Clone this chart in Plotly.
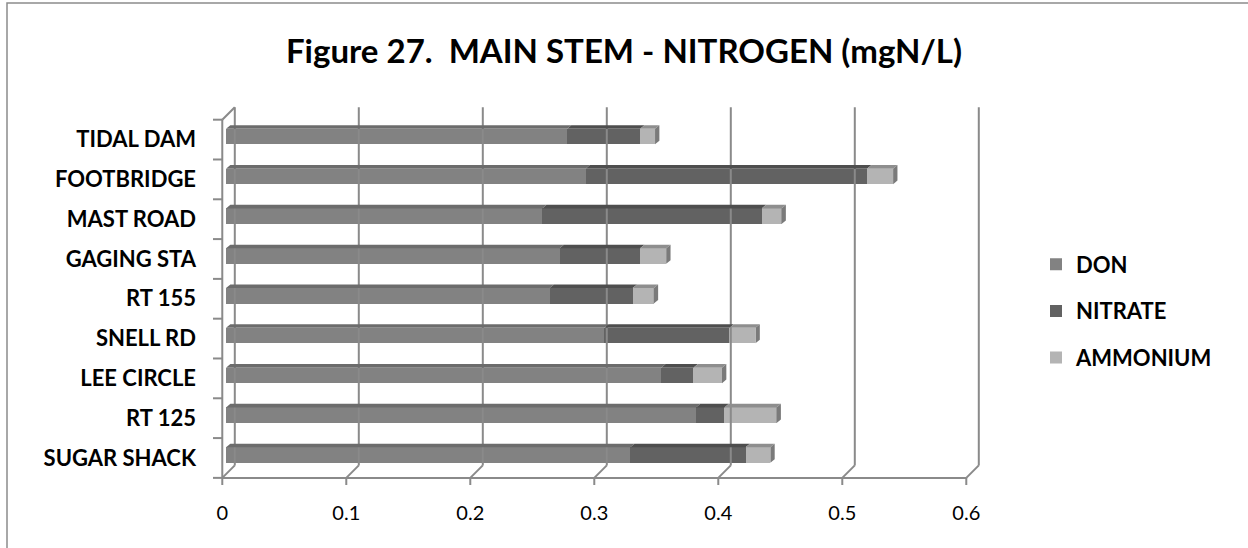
import plotly.graph_objects as go

# Figure 27 - main stem nitrogen, stacked 3D-style bars (mgN/L)
sites = ["SUGAR SHACK", "RT 125", "LEE CIRCLE", "SNELL RD", "RT 155",
         "GAGING STA", "MAST ROAD", "FOOTBRIDGE", "TIDAL DAM"]
don = [0.326, 0.379, 0.351, 0.305, 0.261, 0.269, 0.255, 0.290, 0.275]
nitrate = [0.093, 0.023, 0.026, 0.101, 0.067, 0.065, 0.177, 0.227, 0.059]
ammonium = [0.020, 0.042, 0.023, 0.021, 0.017, 0.021, 0.016, 0.021, 0.012]
x_ticks = [0, 0.1, 0.2, 0.3, 0.4, 0.5, 0.6]
x_tick_text = ["0", "0.1", "0.2", "0.3", "0.4", "0.5", "0.6"]

series = [("DON", don, "#828282", "#6c6c6c"),
          ("NITRATE", nitrate, "#626262", "#4e4e4e"),
          ("AMMONIUM", ammonium, "#b4b4b4", "#8e8e8e")]

FONT = "Lato"
GRID = "#8a8a8a"
BAR_W = 0.39
# depth offsets (front plane / back wall) relative to bar front faces
FX, FY = -0.003, -0.075
DX, DY = 0.0101, 0.314
TOP_DX, TOP_DY = 0.0035, 0.09

W, H = 1248, 548
L, R, T, B = 205, 253, 95, 63
PW, PH = W - L - R, H - T - B


def px(x):  # canvas pixel -> paper x
    return (x - L) / PW


def py(y):  # canvas pixel -> paper y
    return (H - B - y) / PH


rows = list(range(len(sites)))
fig = go.Figure()
for name, vals, col, _ in series:
    fig.add_trace(go.Bar(y=rows, x=vals, name=f"<b>{name}</b>", orientation="h",
                         width=BAR_W, marker=dict(color=col, line=dict(width=0)),
                         legendgroup=name))

shapes = []
line = dict(color=GRID, width=2)
front_bottom = -0.5 + FY
front_top = len(sites) - 0.5 + FY
# back wall gridlines + floor diagonals + front axis ticks
for t in x_ticks:
    shapes.append(dict(type="line", x0=t + FX + DX, x1=t + FX + DX,
                       y0=front_bottom + DY, y1=front_top + DY, line=line))
    shapes.append(dict(type="line", x0=t + FX, x1=t + FX + DX,
                       y0=front_bottom, y1=front_bottom + DY, line=line))
    shapes.append(dict(type="line", x0=t + FX, x1=t + FX,
                       y0=front_bottom, y1=front_bottom - 0.2, line=line))
# front axes
shapes.append(dict(type="line", x0=FX, x1=x_ticks[-1] + FX,
                   y0=front_bottom, y1=front_bottom, line=line))
shapes.append(dict(type="line", x0=FX, x1=FX, y0=front_bottom, y1=front_top, line=line))
shapes.append(dict(type="line", x0=FX, x1=FX + DX, y0=front_top, y1=front_top + DY, line=line))
for k in range(len(sites) + 1):
    yk = k - 0.5 + FY
    shapes.append(dict(type="line", x0=FX - 0.0075, x1=FX, y0=yk, y1=yk, line=line))

# top faces and end caps of the bars
for i in rows:
    left = 0
    yt = i + BAR_W / 2
    for name, vals, col, top in series:
        right = left + vals[i]
        shapes.append(dict(type="path", fillcolor=top, line=dict(width=0),
                           path=f"M {left},{yt} L {right},{yt} L {right + TOP_DX},{yt + TOP_DY} "
                                f"L {left + TOP_DX},{yt + TOP_DY} Z"))
        left = right
    yb = i - BAR_W / 2
    shapes.append(dict(type="path", fillcolor="#7a7a7a", line=dict(width=0),
                       path=f"M {left},{yb} L {left},{yt} L {left + TOP_DX},{yt + TOP_DY} "
                            f"L {left + TOP_DX},{yb + TOP_DY} Z"))

# chart border (left and top edges visible)
shapes.append(dict(type="rect", xref="paper", yref="paper", x0=px(7), x1=px(W + 10),
                   y0=py(H + 10), y1=py(3), line=dict(color="#8c8c8c", width=1.5)))

fig.update_layout(
    width=W, height=H,
    margin=dict(l=L, r=R, t=T, b=B, autoexpand=False),
    paper_bgcolor="white", plot_bgcolor="white",
    barmode="stack", bargap=0,
    font=dict(family=FONT, color="black"),
    title=dict(text="<b>Figure 27.  MAIN STEM - NITROGEN (mgN/L)</b>",
               x=0.5, xanchor="center", y=0.906, yanchor="middle",
               font=dict(size=33, family=FONT, color="black")),
    xaxis=dict(range=[(L - 226) / 1240, (W - R - 226) / 1240],
               tickvals=[t + FX for t in x_ticks], automargin=False,
               ticktext=x_tick_text, showgrid=False, zeroline=False,
               showline=False, ticks="", ticklabelstandoff=14,
               tickfont=dict(size=20, family=FONT)),
    yaxis=dict(range=[(455 - (H - B)) / 39.8, (455 - T) / 39.8],
               tickvals=[i + FY for i in rows], automargin=False,
               ticktext=[f"<b>{s}</b>" for s in sites], showgrid=False,
               zeroline=False, showline=False, ticks="", ticklabelstandoff=8,
               tickfont=dict(size=22, family=FONT)),
    legend=dict(x=px(1036), y=py(311), xanchor="left", yanchor="middle",
                traceorder="grouped", tracegroupgap=15,
                font=dict(size=22, family=FONT), itemwidth=30),
    shapes=shapes,
)

# page body has a default 8px margin; drop it so the figure sits at the window origin
fig.write_html("out.html", config={"displayModeBar": False},
               post_script="document.body.style.margin='0';")
